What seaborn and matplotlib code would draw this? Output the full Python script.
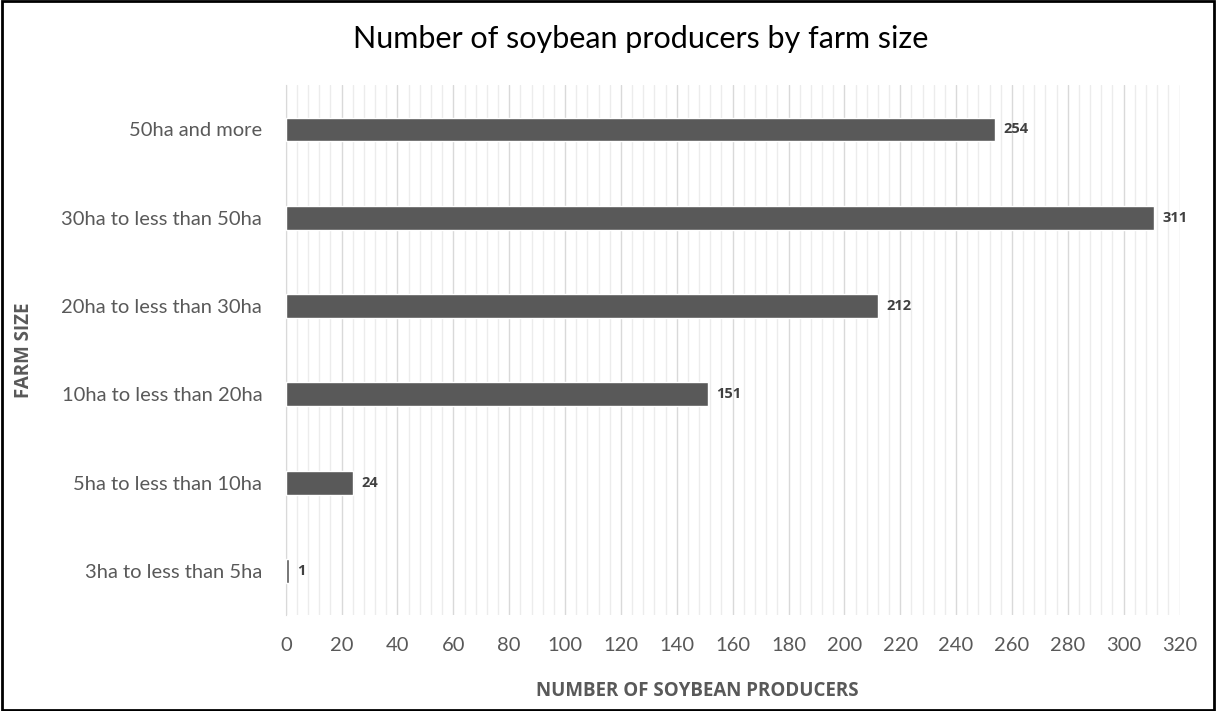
import numpy as np
import pandas as pd
import matplotlib
matplotlib.use("Agg")
import matplotlib.pyplot as plt
import seaborn as sns
from matplotlib.ticker import MultipleLocator

farm_sizes = ["50ha and more", "30ha to less than 50ha", "20ha to less than 30ha",
              "10ha to less than 20ha", "5ha to less than 10ha", "3ha to less than 5ha"]
producers = [254, 311, 212, 151, 24, 1]
x_ticks = list(range(0, 321, 20))

sns.set_style("white")
plt.rcParams['font.family'] = ['Lato', 'DejaVu Sans']

df = pd.DataFrame({"size": farm_sizes, "count": producers})

fig = plt.figure(figsize=(12.16, 7.11), dpi=100)
ax = fig.add_axes([0.235, 0.135, 0.735, 0.745])

sns.barplot(data=df, y="size", x="count", color="#595959", width=0.27,
            saturation=1, ax=ax, zorder=3)

ax.set_xlim(0, 320)
ax.set_xticks(x_ticks)
ax.xaxis.set_minor_locator(MultipleLocator(4))
ax.grid(True, axis="x", which="major", color="#d9d9d9", linewidth=1, zorder=0)
ax.grid(True, axis="x", which="minor", color="#ececec", linewidth=1, zorder=0)
ax.set_axisbelow(True)

for s in ["top", "right", "bottom"]:
    ax.spines[s].set_visible(False)
ax.spines["left"].set_color("#d9d9d9")

# category boundary ticks on the y axis
ax.set_yticks(np.arange(len(farm_sizes)))
ax.set_yticks(np.arange(-0.5, len(farm_sizes), 1), minor=True)
ax.tick_params(axis="y", which="major", length=0, pad=17, labelsize=14.5, labelcolor="#595959")
ax.tick_params(axis="y", which="minor", length=6, color="#d9d9d9", width=1)
ax.tick_params(axis="x", which="both", length=0, pad=16, labelsize=14.5, labelcolor="#595959")
ax.set_ylim(len(farm_sizes) - 0.5, -0.5)

bold = ['Open Sans', 'DejaVu Sans']
for i, v in enumerate(producers):
    ax.text(v + 3, i, str(v), va="center", ha="left", fontsize=10.5, family=bold,
            fontweight="bold", color="#404040")

ax.set_xlabel("NUMBER OF SOYBEAN PRODUCERS", fontsize=13.5, fontweight="bold", family=bold,
              color="#595959", labelpad=24)
ax.xaxis.set_label_coords(0.46, -0.125)
ax.set_ylabel("FARM SIZE", fontsize=13.5, fontweight="bold", family=bold,
              color="#595959", labelpad=20)

fig.suptitle("Number of soybean producers by farm size", fontsize=22, color="#000000",
             x=0.527, y=0.965)

fig.patches.append(plt.Rectangle((0.002, 0.002), 0.996, 0.996, transform=fig.transFigure,
                                 fill=False, edgecolor="black", linewidth=2))

fig.savefig("out.png", dpi=100)
